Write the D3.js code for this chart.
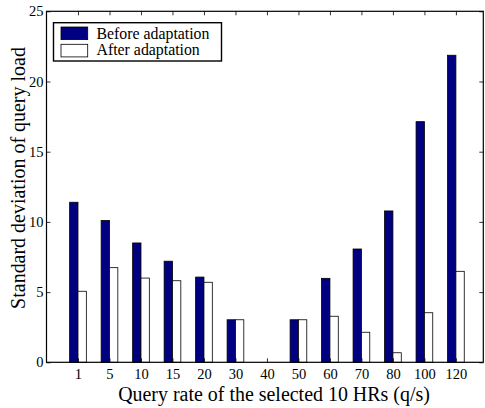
<!DOCTYPE html>
<html>
<head>
<meta charset="utf-8">
<script src="https://cdn.jsdelivr.net/npm/d3@7"></script>
<style>
  body { margin: 0; background: #fff; }
  svg { display: block; font-family: "Liberation Serif", "Times New Roman", serif; }
</style>
</head>
<body>
<svg></svg>
<script>
const categories = ['1', '5', '10', '15', '20', '30', '40', '50', '60', '70', '80', '100', '120'];
const beforeValues = [11.4, 10.1, 8.5, 7.2, 6.07, 3.03, 0, 3.03, 5.98, 8.07, 10.78, 17.14, 21.87];
const afterValues = [5.06, 6.74, 6.0, 5.81, 5.7, 3.03, 0, 3.03, 3.28, 2.14, 0.68, 3.53, 6.48];
const yTicks = [0, 5, 10, 15, 20, 25];
const seriesNames = ['Before adaptation', 'After adaptation'];

const W = 485, H = 408;
const plot = {l: 46.5, r: 483.3, t: 11.3, b: 362.3};

const svg = d3.select('svg').attr('width', W).attr('height', H);

// category index 1..13 on a linear axis, like matlab's bar()
const scaleX = d3.scaleLinear()
    .domain([0, 13.87])
    .range([plot.l, plot.r]);
const scaleY = d3.scaleLinear()
    .domain([0, 25])
    .range([plot.b, plot.t]);

const barW = 0.265;
const colors = ['#000080', '#ffffff'];

const data = categories.map((c, i) => ({cat: c, idx: i + 1, vals: [beforeValues[i], afterValues[i]]}));

// shrink/grow a text's font so it spans the given width
function fitText(sel, target) {
    const len = sel.node().getComputedTextLength();
    sel.attr('font-size', +sel.attr('font-size') * target / len);
}

// bars
const groups = svg.append('g').selectAll('g')
    .data(data)
    .enter().append('g');

groups.selectAll('rect')
    .data(d => d.vals.map((v, s) => ({idx: d.idx, v: v, s: s})))
    .enter().append('rect')
    .filter(d => d.v > 0)
    .attr('x', d => scaleX(d.idx - barW + d.s * barW))
    .attr('width', d => scaleX(barW) - scaleX(0))
    .attr('y', d => scaleY(d.v))
    .attr('height', d => scaleY(0) - scaleY(d.v))
    .attr('fill', d => colors[d.s])
    .attr('stroke', '#000')
    .attr('stroke-width', 0.8);

// axes (ticks inward on all four sides)
const tickLen = 4;
svg.append('g')
    .attr('transform', `translate(0, ${plot.b})`)
    .call(d3.axisBottom(scaleX).tickValues(d3.range(1, 14))
        .tickFormat(d => categories[d - 1]).tickSizeInner(-tickLen).tickSizeOuter(0).tickPadding(6))
    .call(g => g.select('.domain').remove());
svg.append('g')
    .attr('transform', `translate(0, ${plot.t})`)
    .call(d3.axisTop(scaleX).tickValues(d3.range(1, 14))
        .tickFormat('').tickSizeInner(-tickLen).tickSizeOuter(0))
    .call(g => g.select('.domain').remove());
svg.append('g')
    .attr('transform', `translate(${plot.l}, 0)`)
    .call(d3.axisLeft(scaleY).tickValues(yTicks).tickSizeInner(-tickLen).tickSizeOuter(0).tickPadding(3))
    .call(g => g.select('.domain').remove());
svg.append('g')
    .attr('transform', `translate(${plot.r}, 0)`)
    .call(d3.axisRight(scaleY).tickValues(yTicks).tickFormat('').tickSizeInner(-tickLen).tickSizeOuter(0))
    .call(g => g.select('.domain').remove());

svg.selectAll('.tick text')
    .attr('font-family', '"Liberation Serif", serif')
    .attr('font-size', 14.5)
    .attr('fill', '#000');
svg.selectAll('.tick line').attr('stroke', '#000').attr('stroke-width', 0.8);

// frame
svg.append('rect')
    .attr('x', plot.l).attr('y', plot.t)
    .attr('width', plot.r - plot.l).attr('height', plot.b - plot.t)
    .attr('fill', 'none').attr('stroke', '#000').attr('stroke-width', 1.2);

// axis titles
const xTitle = svg.append('text')
    .attr('x', 274)
    .attr('y', 400.5)
    .attr('text-anchor', 'middle')
    .attr('font-size', 18)
    .text('Query rate of the selected 10 HRs (q/s)');
fitText(xTitle, 312);
const yTitle = svg.append('text')
    .attr('transform', `translate(25, 178) rotate(-90)`)
    .attr('text-anchor', 'middle')
    .attr('font-size', 18)
    .text('Standard deviation of query load');
fitText(yTitle, 262);

// legend
const legend = svg.append('g');
legend.append('rect')
    .attr('x', 53.5).attr('y', 22.7).attr('width', 168).attr('height', 38.3)
    .attr('fill', '#fff').attr('stroke', '#000').attr('stroke-width', 1.4);
seriesNames.forEach((name, i) => {
    legend.append('rect')
        .attr('x', 61).attr('y', 27 + i * 17.3).attr('width', 26.7).attr('height', 12.6)
        .attr('fill', colors[i]).attr('stroke', '#000').attr('stroke-width', 0.8);
    const t = legend.append('text')
        .attr('x', 96.5).attr('y', 38.5 + i * 16.5)
        .attr('font-size', 15)
        .text(name);
    if (i === 0) fitText(t, 113);
    else t.attr('font-size', legend.select('text').attr('font-size'));
});
</script>
</body>
</html>
